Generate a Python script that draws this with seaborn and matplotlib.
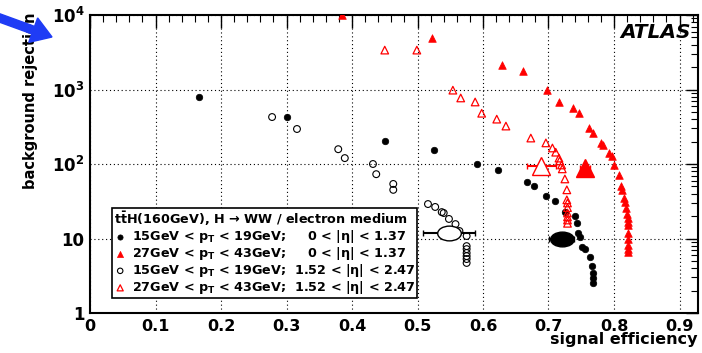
import numpy as np
import matplotlib
matplotlib.use('Agg')
import matplotlib.pyplot as plt
import seaborn as sns
from matplotlib.path import Path
from matplotlib.patches import FancyArrow
from matplotlib.transforms import IdentityTransform
from matplotlib.ticker import MultipleLocator, LogLocator, FixedLocator, FixedFormatter, NullFormatter

# 15GeV < pT < 19GeV, 0 < |eta| < 1.37  (filled black circles)
eff_lo_cen = [0.166, 0.301, 0.450, 0.525, 0.591, 0.623, 0.667, 0.678, 0.696, 0.710, 0.725,
              0.740, 0.744, 0.745, 0.748, 0.751, 0.756, 0.763, 0.766, 0.768, 0.768, 0.768]
rej_lo_cen = [794, 427, 203, 155, 100, 83, 57, 50, 37, 32, 23,
              20, 16, 12, 10.5, 7.7, 7.2, 5.6, 4.3, 3.4, 2.95, 2.5]

# 27GeV < pT < 43GeV, 0 < |eta| < 1.37  (filled red triangles)
eff_hi_cen = [0.385, 0.522, 0.629, 0.661, 0.698, 0.716, 0.737, 0.746, 0.762, 0.768, 0.780,
              0.783, 0.792, 0.797, 0.800, 0.808, 0.811, 0.812, 0.815, 0.817, 0.819, 0.820,
              0.821, 0.821, 0.821, 0.822, 0.822, 0.822, 0.822, 0.822]
rej_hi_cen = [10000, 4900, 2130, 1780, 980, 680, 565, 480, 303, 260, 192,
              180, 140, 128, 97, 71, 51, 45, 35, 31, 26, 21,
              19, 16.6, 15, 11.8, 10, 8.2, 7.3, 6.6]

# 15GeV < pT < 19GeV, 1.52 < |eta| < 2.47  (open black circles)
eff_lo_fwd = [0.278, 0.316, 0.379, 0.389, 0.432, 0.437, 0.463, 0.463, 0.516, 0.527, 0.537,
              0.540, 0.548, 0.558, 0.564, 0.575, 0.575, 0.575, 0.575, 0.575, 0.575, 0.575]
rej_lo_fwd = [427, 295, 158, 120, 100, 73, 54, 45, 29, 26.5, 22.6,
              22, 18.3, 15.6, 12.6, 10.8, 7.9, 7.2, 6.4, 5.8, 5.3, 4.7]

# 27GeV < pT < 43GeV, 1.52 < |eta| < 2.47  (open red triangles)
eff_hi_fwd = [0.450, 0.499, 0.554, 0.566, 0.588, 0.598, 0.621, 0.635, 0.673, 0.696, 0.706,
              0.711, 0.716, 0.717, 0.720, 0.721, 0.725, 0.728, 0.728, 0.729, 0.729, 0.729,
              0.729, 0.729, 0.729]
rej_hi_fwd = [3380, 3380, 980, 770, 680, 480, 400, 323, 223, 192, 164,
              144, 120, 110, 97, 86, 63, 45, 33, 30, 26, 22,
              19.5, 17.7, 16]

# overall working points (large markers) : efficiency, rejection, efficiency error
wp_eff = [0.720, 0.756, 0.548, 0.689]
wp_rej = [10.0, 88, 11.8, 94]
wp_err = [0.019, 0.008, 0.040, 0.022]

legend_title = r"t$\bar{t}$H(160GeV), H → WW / electron medium"
legend_labels = [
    r"15GeV < p$_T$ < 19GeV;     0 < |η| < 1.37",
    r"27GeV < p$_T$ < 43GeV;     0 < |η| < 1.37",
    r"15GeV < p$_T$ < 19GeV;  1.52 < |η| < 2.47",
    r"27GeV < p$_T$ < 43GeV;  1.52 < |η| < 2.47",
]
xtick_vals = [0, 0.1, 0.2, 0.3, 0.4, 0.5, 0.6, 0.7, 0.8, 0.9]
xtick_labels = ['0', '0.1', '0.2', '0.3', '0.4', '0.5', '0.6', '0.7', '0.8', '0.9']
ytick_vals = [1, 10, 100, 1000, 10000]
ytick_labels = ['1', '10', r'$10^{2}$', r'$10^{3}$', r'$10^{4}$']

sns.set_style('white')
plt.rcParams['font.family'] = ['DejaVu Sans']
plt.rcParams['font.weight'] = 'bold'
plt.rcParams['mathtext.fontset'] = 'dejavusans'
plt.rcParams['mathtext.default'] = 'bf'
for key in ['text.color', 'axes.labelcolor', 'xtick.color', 'ytick.color', 'xtick.labelcolor', 'ytick.labelcolor']:
    plt.rcParams[key] = 'black'

fig = plt.figure(figsize=(7.02, 3.53), dpi=100)
ax = fig.add_axes([90 / 702, 40 / 353, 608 / 702, 298 / 353])

red = '#ff0000'
sns.scatterplot(x=eff_lo_cen, y=rej_lo_cen, ax=ax, marker='o', s=22, color='black',
                edgecolor='black', linewidth=0.5, zorder=3)
sns.scatterplot(x=eff_hi_cen, y=rej_hi_cen, ax=ax, marker='^', s=30, color=red,
                edgecolor=red, linewidth=0.5, zorder=3)
sns.scatterplot(x=eff_lo_fwd, y=rej_lo_fwd, ax=ax, marker='o', s=24, facecolor='none',
                edgecolor='black', linewidth=0.8, zorder=3)
sns.scatterplot(x=eff_hi_fwd, y=rej_hi_fwd, ax=ax, marker='^', s=30, facecolor='none',
                edgecolor=red, linewidth=0.9, zorder=3)

# large markers for the overall points
circ = Path.unit_circle()
ellipse = Path(circ.vertices * np.array([1.6, 1.0]), circ.codes)
big_styles = [
    dict(marker=ellipse, ms=17, mfc='black', mec='black', color='black'),
    dict(marker='^', ms=13, mfc=red, mec=red, color=red),
    dict(marker=ellipse, ms=17, mfc='white', mec='black', color='black'),
    dict(marker='^', ms=13, mfc='white', mec=red, color=red),
]
for i in range(4):
    ax.errorbar(wp_eff[i], wp_rej[i], xerr=wp_err[i], ls='none', elinewidth=1.5,
                capsize=2, mew=1.0, zorder=4, **big_styles[i])

ax.set_yscale('log')
ax.set_xlim(0, 608 / 655)
ax.set_ylim(1, 1e4)

ax.xaxis.set_major_locator(FixedLocator(xtick_vals))
ax.xaxis.set_major_formatter(FixedFormatter(xtick_labels))
ax.xaxis.set_minor_locator(MultipleLocator(0.02))
ax.yaxis.set_major_locator(FixedLocator(ytick_vals))
ax.yaxis.set_major_formatter(FixedFormatter(ytick_labels))
ax.yaxis.set_minor_locator(LogLocator(base=10, subs=np.arange(2, 10)))
ax.yaxis.set_minor_formatter(NullFormatter())
ax.tick_params(which='both', direction='in', top=True, right=True, color='black')
ax.tick_params(which='major', length=9, width=1.0, pad=4)
ax.tick_params(which='minor', length=5, width=0.8)
ax.tick_params(axis='x', labelsize=11.5)
ax.tick_params(axis='y', labelsize=12)
for lab in ax.get_xticklabels() + ax.get_yticklabels():
    lab.set_fontweight('bold')

ax.grid(True, which='major', color='black', ls=(0, (1, 2.5)), lw=0.8)
for sp in ax.spines.values():
    sp.set_linewidth(1.5)
    sp.set_color('black')

ax.set_xlabel('signal efficiency', fontsize=11.5, fontweight='bold', loc='right')
ax.xaxis.set_label_coords(1.0, -0.065)
ax.set_ylabel('background rejection', fontsize=10.5, fontweight='bold', loc='top')
ax.yaxis.set_label_coords(-0.086, 1.01)

ax.text(0.988, 0.94, 'ATLAS', transform=ax.transAxes, ha='right', va='center',
        fontsize=14.5, fontweight='bold', fontstyle='italic')

handles = ax.collections[:4]
leg = ax.legend(handles, legend_labels, title=legend_title, loc='lower left',
                bbox_to_anchor=(0.036, 0.05), borderaxespad=0, frameon=True,
                fancybox=False, framealpha=1, edgecolor='black', fontsize=9.2,
                title_fontsize=9.2, labelspacing=0.0, handletextpad=0.4,
                handlelength=1.0, borderpad=0.15, alignment='left', markerscale=0.8)
leg.get_frame().set_linewidth(1.2)
leg.get_title().set_fontweight('bold')
for t in leg.get_texts():
    t.set_fontweight('bold')
leg.set_zorder(10)

# blue pointer arrow in the top left corner (pixel coordinates)
arrow = FancyArrow(-3, 336, 55, -20, width=8, head_width=26, head_length=20,
                   length_includes_head=True, color='#1f3cf5', transform=IdentityTransform())
fig.patches.append(arrow)

fig.savefig('out.png', dpi=100)
